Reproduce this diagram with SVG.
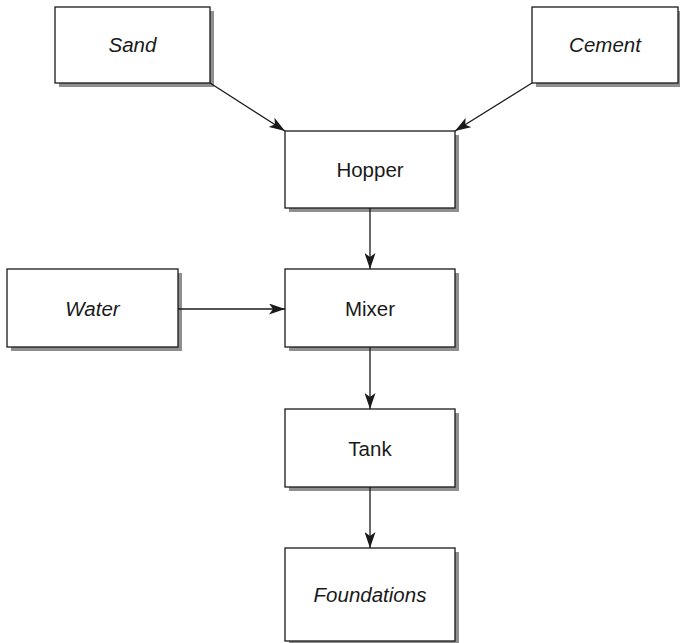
<svg xmlns="http://www.w3.org/2000/svg" width="680" height="643" viewBox="0 0 680 643">
  <style>
    .shadow { fill: #8f8f8f; }
    .box { fill: #ffffff; stroke: #1a1a1a; stroke-width: 1.3; }
    .label { font-family: "Liberation Sans", Arial, sans-serif; font-size: 20.5px; fill: #1a1a1a; text-anchor: middle; }
    .it { font-style: italic; }
    .edge { stroke: #1a1a1a; stroke-width: 1.3; fill: none; marker-end: url(#arrow); }
  </style>
  <defs>
    <marker id="arrow" viewBox="0 0 16 11" refX="16" refY="5.5" markerWidth="16" markerHeight="11" markerUnits="userSpaceOnUse" orient="auto">
      <path d="M0,0 L16,5.5 L0,11 L4,5.5 Z" fill="#1a1a1a"/>
    </marker>
  </defs>
  <rect width="680" height="643" fill="#ffffff"/>

  <g id="sand">
    <rect class="shadow" x="59" y="11" width="155" height="76"/>
    <rect class="box" x="55" y="7" width="155" height="76"/>
    <text class="label it" x="132.5" y="52">Sand</text>
  </g>
  <g id="cement">
    <rect class="shadow" x="536" y="11" width="150" height="76"/>
    <rect class="box" x="532" y="7" width="146" height="76"/>
    <text class="label it" x="605" y="52">Cement</text>
  </g>
  <g id="hopper">
    <rect class="shadow" x="289" y="135" width="170" height="77"/>
    <rect class="box" x="285" y="131" width="170" height="77"/>
    <text class="label" x="370" y="176.5">Hopper</text>
  </g>
  <g id="water">
    <rect class="shadow" x="11" y="273" width="171" height="78"/>
    <rect class="box" x="7" y="269" width="171" height="78"/>
    <text class="label it" x="92.5" y="315.5">Water</text>
  </g>
  <g id="mixer">
    <rect class="shadow" x="289" y="273" width="170" height="78"/>
    <rect class="box" x="285" y="269" width="170" height="78"/>
    <text class="label" x="370" y="315.5">Mixer</text>
  </g>
  <g id="tank">
    <rect class="shadow" x="289" y="413" width="170" height="78"/>
    <rect class="box" x="285" y="409" width="170" height="78"/>
    <text class="label" x="370" y="455.5">Tank</text>
  </g>
  <g id="foundations">
    <rect class="shadow" x="289" y="552" width="170" height="93"/>
    <rect class="box" x="285" y="548" width="170" height="93"/>
    <text class="label it" x="370" y="602">Foundations</text>
  </g>

  <g id="connectors">
    <line class="edge" x1="210" y1="83" x2="285" y2="131"/>
    <line class="edge" x1="532" y1="83" x2="455" y2="131"/>
    <line class="edge" x1="370" y1="208" x2="370" y2="269"/>
    <line class="edge" x1="178" y1="309" x2="285" y2="309"/>
    <line class="edge" x1="370" y1="347" x2="370" y2="409"/>
    <line class="edge" x1="370" y1="487" x2="370" y2="548"/>
  </g>
</svg>
